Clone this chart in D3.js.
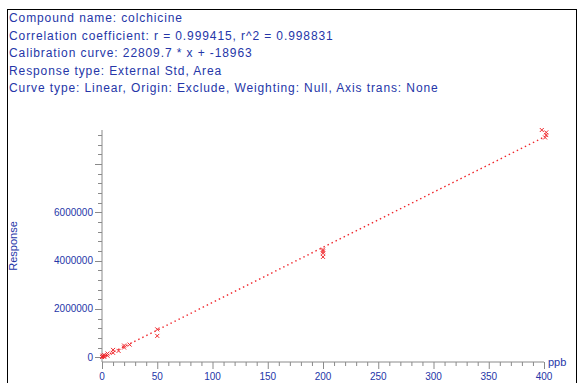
<!DOCTYPE html>
<html>
<head>
<meta charset="utf-8">
<script src="https://cdn.jsdelivr.net/npm/d3@7"></script>
<style>
  body { margin: 0; background: #fff; }
  svg text { font-family: Arial, "Liberation Sans", sans-serif; fill: #2536a8; }
</style>
</head>
<body>
<div id="app"></div>
<script>
// header lines of the quantitation report
const headerLines = [
  "Compound name: colchicine",
  "Correlation coefficient: r = 0.999415, r^2 = 0.998831",
  "Calibration curve: 22809.7 * x + -18963",
  "Response type: External Std, Area",
  "Curve type: Linear, Origin: Exclude, Weighting: Null, Axis trans: None"
];

// calibration fit
const slope = 22809.7;
const intercept = -18963.2;

// calibration points (ppb, response)
const conc = [0, 0.5, 1, 2, 2, 5, 5, 10, 10, 15, 20, 20, 25, 50, 50, 200, 200, 200, 200, 398, 402, 402, 401];
const resp = [5000, 60000, 30000, 90000, 20000, 150000, 60000, 300000, 180000, 260000, 480000, 400000, 520000, 1150000, 880000, 4450000, 4380000, 4300000, 4150000, 9400000, 9300000, 9190000, 9090000];

const xTicks = [0, 50, 100, 150, 200, 250, 300, 350, 400];
const yTicks = [0, 2000000, 4000000, 6000000];

const width = 578, height = 383;
const svg = d3.select("#app").append("svg")
  .attr("width", width).attr("height", height);

// frame
svg.append("rect")
  .attr("x", 7.5).attr("y", 9.5).attr("width", 569).attr("height", 390)
  .attr("fill", "none").attr("stroke", "#000").attr("stroke-width", 1);

svg.append("g").selectAll("text")
  .data(headerLines)
  .join("text")
  .attr("x", 9)
  .attr("y", (d, i) => 22 + i * 17.5)
  .attr("font-size", "12px")
  .attr("letter-spacing", "0.9px")
  .text(d => d);

const x = d3.scaleLinear().domain([0, 400]).range([102, 544]);
const y = d3.scaleLinear().domain([-200000, 9400000]).range([362, 130]);

const axisColor = "#8a8a8a";

// x axis
const gx = svg.append("g").attr("transform", `translate(0,${y.range()[0]})`);
gx.append("line")
  .attr("x1", x(0)).attr("x2", x(400))
  .attr("stroke", axisColor);
gx.selectAll("line.minor")
  .data(d3.range(0, 401, 10))
  .join("line")
  .attr("class", "minor")
  .attr("x1", d => x(d) + 0.5).attr("x2", d => x(d) + 0.5)
  .attr("y1", 0).attr("y2", d => d % 50 === 0 ? 7 : 4)
  .attr("stroke", axisColor);
gx.selectAll("text")
  .data(xTicks)
  .join("text")
  .attr("x", d => x(d))
  .attr("y", 18)
  .attr("text-anchor", "middle")
  .attr("font-size", "10px")
  .text(d => d);

svg.append("text")
  .attr("x", 548).attr("y", 366)
  .attr("font-size", "11px")
  .text("ppb");

// y axis
const gy = svg.append("g").attr("transform", `translate(${x(0)},0)`);
gy.append("line")
  .attr("y1", y.range()[0]).attr("y2", y.range()[1])
  .attr("stroke", axisColor);
gy.selectAll("line.minor")
  .data(d3.range(0, 9400001, 400000))
  .join("line")
  .attr("class", "minor")
  .attr("y1", d => Math.round(y(d)) + 0.5).attr("y2", d => Math.round(y(d)) + 0.5)
  .attr("x1", 0).attr("x2", d => d % 2000000 === 0 ? -7 : -4)
  .attr("stroke", axisColor);
gy.selectAll("text")
  .data(yTicks)
  .join("text")
  .attr("x", -9)
  .attr("y", d => y(d) + 3.5)
  .attr("text-anchor", "end")
  .attr("font-size", "10px")
  .text(d => d);

svg.append("text")
  .attr("transform", "translate(17,246) rotate(-90)")
  .attr("text-anchor", "middle")
  .attr("font-size", "11px")
  .text("Response");

// fitted line, dotted
const red = "#f0282d";
svg.append("line")
  .attr("x1", x(0)).attr("y1", y(slope * 0 + intercept))
  .attr("x2", x(400)).attr("y2", y(slope * 400 + intercept))
  .attr("stroke", red)
  .attr("stroke-width", 1.4)
  .attr("stroke-dasharray", "1.5,3");

// points as small crosses
const pts = conc.map((c, i) => [c, resp[i]]);
svg.append("g").selectAll("path")
  .data(pts)
  .join("path")
  .attr("transform", d => `translate(${x(d[0])},${y(d[1])})`)
  .attr("d", "M-2,-2L2,2M-2,2L2,-2")
  .attr("stroke", red)
  .attr("stroke-width", 1);
</script>
</body>
</html>
